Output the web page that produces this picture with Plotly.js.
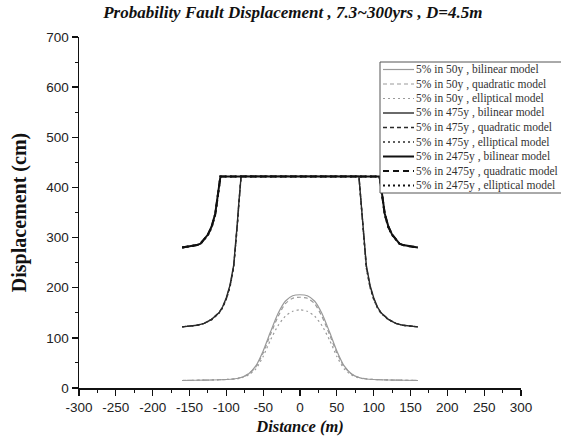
<!DOCTYPE html>
<html>
<head>
<meta charset="utf-8">
<script src="https://cdn.plot.ly/plotly-3.0.1.min.js"></script>
<style>html,body{margin:0;padding:0;background:#fff;}#chart{width:561px;height:447px;}</style>
</head>
<body>
<div id="chart"></div>
<script>
// ---- data ----
var x50 = [-160,-140,-120,-100,-90,-80,-70,-60,-50,-40,-30,-20,-10,0,10,20,30,40,50,60,70,80,90,100,120,140,160];
var y50Bilinear  = [15,15.5,16,17,18,21,28,44,74,112,148,173,184,186,184,173,148,112,74,44,28,21,18,17,16,15.5,15];
var y50Quadratic = [15,15.5,16,17,18,21,28,42,70,107,142,168,179,181,179,168,142,107,70,42,28,21,18,17,16,15.5,15];
var y50Elliptical= [15,15.5,16,17,18,20,26,38,63,96,124,143,153,156,153,143,124,96,63,38,26,20,18,17,16,15.5,15];

var x475 = [-160,-150,-140,-130,-120,-110,-105,-100,-95,-90,-87,-85,-83,-81,-80,80,81,83,85,87,90,95,100,105,110,120,130,140,150,160];
var y475Bilinear  = [122,123,125,129,137,150,162,180,205,245,290,330,370,405,422,422,405,370,330,290,245,205,180,162,150,137,129,125,123,122];
var y475Quadratic = [122,123,125,129,137,150,161,178,203,242,287,327,368,404,422,422,404,368,327,287,242,203,178,161,150,137,129,125,123,122];
var y475Elliptical= [122,123,125,129,136,149,160,177,201,240,284,325,366,403,422,422,403,366,325,284,240,201,177,160,149,136,129,125,123,122];

var x2475 = [-160,-150,-140,-135,-130,-125,-120,-115,-112,-110,-108,108,110,112,115,120,125,130,135,140,150,160];
var y2475Bilinear  = [280,282,285,288,296,306,322,348,380,405,422,422,405,380,348,322,306,296,288,285,282,280];
var y2475Quadratic = [280,282,285,288,296,306,321,347,379,404,422,422,404,379,347,321,306,296,288,285,282,280];
var y2475Elliptical= [280,282,285,288,296,305,320,346,378,403,422,422,403,378,346,320,305,296,288,285,282,280];

var seriesNames = [
  "5% in 50y , bilinear model",
  "5% in 50y , quadratic model",
  "5% in 50y , elliptical model",
  "5% in 475y , bilinear model",
  "5% in 475y , quadratic model",
  "5% in 475y , elliptical model",
  "5% in 2475y , bilinear model",
  "5% in 2475y , quadratic model",
  "5% in 2475y , elliptical model"
];
var xTickVals = [-300,-250,-200,-150,-100,-50,0,50,100,150,200,250,300];
var xTickText = ["-300","-250","-200","-150","-100","-50","0","50","100","150","200","250","300"];
var yTickVals = [0,100,200,300,400,500,600,700];
var yTickText = ["0","100","200","300","400","500","600","700"];

// ---- styling ----
var styles = [
  {color:'#9a9a9a', width:1.2, dash:'solid', shape:'spline'},
  {color:'#9a9a9a', width:1.2, dash:'4px,3px', shape:'spline'},
  {color:'#9a9a9a', width:1.2, dash:'2px,3px', shape:'spline'},
  {color:'#2a2a2a', width:1.4, dash:'solid', shape:'linear'},
  {color:'#2a2a2a', width:1.4, dash:'4px,3px', shape:'linear'},
  {color:'#2a2a2a', width:1.4, dash:'2px,3px', shape:'linear'},
  {color:'#111111', width:2, dash:'solid', shape:'linear'},
  {color:'#111111', width:2, dash:'6px,4px', shape:'linear'},
  {color:'#111111', width:2, dash:'2px,3px', shape:'linear'}
];
var xs = [x50,x50,x50,x475,x475,x475,x2475,x2475,x2475];
var ys = [y50Bilinear,y50Quadratic,y50Elliptical,y475Bilinear,y475Quadratic,y475Elliptical,y2475Bilinear,y2475Quadratic,y2475Elliptical];

var traces = [];
for (var i = 0; i < seriesNames.length; i++) {
  traces.push({
    type:'scatter', mode:'lines', name:seriesNames[i],
    x:xs[i], y:ys[i],
    line:{color:styles[i].color, width:styles[i].width, dash:styles[i].dash, shape:styles[i].shape, smoothing:0.6},
    showlegend:false, hoverinfo:'skip'
  });
}

// plot area geometry (pixels) for custom compact legend
var W = 561, H = 447, mL = 79, mR = 40, mT = 37, mB = 59;
var pw = W - mL - mR, ph = H - mT - mB;
function px2x(p){ return (p - mL) / pw; }
function py2y(p){ return (H - mB - p) / ph; }

var shapes = [], annotations = [];
var lgLeft = 380, lgTop = 62, lgBottom = 193, rowH = 14.5;
shapes.push({type:'rect', xref:'paper', yref:'paper', x0:px2x(lgLeft), x1:px2x(600), y0:py2y(lgBottom), y1:py2y(lgTop),
  line:{color:'#555', width:1}, fillcolor:'#ffffff', layer:'above'});
for (var j = 0; j < seriesNames.length; j++) {
  var yy = lgTop + 7.5 + j * rowH;
  shapes.push({type:'line', xref:'paper', yref:'paper', x0:px2x(383), x1:px2x(414), y0:py2y(yy), y1:py2y(yy),
    line:{color:styles[j].color, width:styles[j].width, dash:styles[j].dash}, layer:'above'});
  annotations.push({xref:'paper', yref:'paper', x:px2x(414), y:py2y(yy), xanchor:'left', yanchor:'middle',
    text:seriesNames[j], showarrow:false, font:{family:'Liberation Serif, Times New Roman, serif', size:11.5, color:'#333'}});
}

var layout = {
  width:W, height:H,
  margin:{l:mL, r:mR, t:mT, b:mB},
  paper_bgcolor:'#fff', plot_bgcolor:'#fff',
  showlegend:false,
  title:{text:'<b><i>Probability Fault Displacement , 7.3~300yrs , D=4.5m</i></b>',
    font:{family:'Liberation Serif, Times New Roman, serif', size:17, color:'#111'}, x:0.522, xanchor:'center', y:0.972, yanchor:'middle'},
  xaxis:{range:[-300,300], tickvals:xTickVals, ticktext:xTickText, ticks:'outside', ticklen:6, tickwidth:1.3, tickcolor:'#111',
    showline:true, linecolor:'#111', linewidth:1.5, showgrid:false, zeroline:false,
    minor:{dtick:25, ticks:'outside', ticklen:3, tickwidth:1, tickcolor:'#111'},
    tickfont:{family:'Liberation Sans, Arial, sans-serif', size:13.5, color:'#222'},
    title:{text:'<b><i>Distance (m)</i></b>', font:{family:'Liberation Serif, Times New Roman, serif', size:16.5, color:'#111'}, standoff:6}},
  yaxis:{range:[0,700], tickvals:yTickVals, ticktext:yTickText, ticks:'outside', ticklen:6, tickwidth:1.3, tickcolor:'#111',
    showline:true, linecolor:'#111', linewidth:1.5, showgrid:false, zeroline:false,
    minor:{dtick:50, ticks:'outside', ticklen:3, tickwidth:1, tickcolor:'#111'},
    tickfont:{family:'Liberation Sans, Arial, sans-serif', size:13.5, color:'#222'},
    title:{text:'<b>Displacement (cm)</b>', font:{family:'Liberation Serif, Times New Roman, serif', size:20, color:'#111'}, standoff:14}},
  shapes:shapes, annotations:annotations
};

Plotly.newPlot('chart', traces, layout, {staticPlot:true, displayModeBar:false});
</script>
</body>
</html>
